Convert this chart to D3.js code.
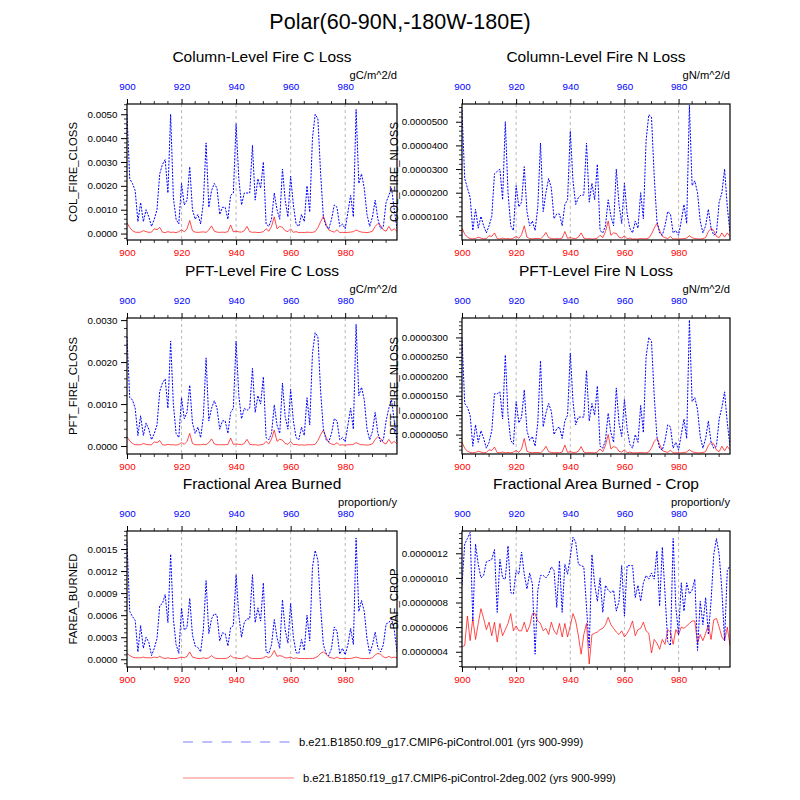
<!DOCTYPE html>
<html>
<head>
<meta charset="utf-8">
<script src="https://cdn.jsdelivr.net/npm/d3@7"></script>
<style>
  body { margin: 0; background: #fff; }
  text { font-family: "Liberation Sans", Arial, Helvetica, sans-serif; }
</style>
</head>
<body>
<div id="chart"></div>
<script>
// years 900-999, one value per year for each run
const years = d3.range(900, 1000)
const xMajor = [900, 920, 940, 960, 980]
const xGrid = [920, 940, 960, 980]

const ctlName = 'b.e21.B1850.f09_g17.CMIP6-piControl.001 (yrs 900-999)'
const expName = 'b.e21.B1850.f19_g17.CMIP6-piControl-2deg.002 (yrs 900-999)'

// COL_FIRE_CLOSS
const colClossCtl = [
  0.0050, 0.0023, 0.0021, 0.0018, 0.0005, 0.0013, 0.0005, 0.0010, 0.0007, 0.0003,
  0.0006, 0.0010, 0.0025, 0.0029, 0.0031, 0.0017, 0.0050, 0.0015, 0.0006, 0.0004,
  0.0021, 0.0012, 0.0014, 0.0028, 0.0010, 0.0006, 0.0008, 0.0004, 0.0013, 0.0038,
  0.0011, 0.0018, 0.0021, 0.0019, 0.0008, 0.0011, 0.0011, 0.0006, 0.0016, 0.0017,
  0.0046, 0.0023, 0.0012, 0.0017, 0.0017, 0.0017, 0.0037, 0.0014, 0.0023, 0.0019,
  0.0030, 0.0004, 0.0003, 0.0006, 0.0017, 0.0010, 0.0006, 0.0027, 0.0014, 0.0007,
  0.0024, 0.0012, 0.0004, 0.0003, 0.0008, 0.0005, 0.0020, 0.0009, 0.0040, 0.0050,
  0.0048, 0.0025, 0.0007, 0.0003, 0.0002, 0.0006, 0.0012, 0.0011, 0.0003, 0.0004,
  0.0002, 0.0009, 0.0016, 0.0007, 0.0052, 0.0021, 0.0025, 0.0019, 0.0008, 0.0003,
  0.0007, 0.0014, 0.0006, 0.0002, 0.0003, 0.0013, 0.0016, 0.0019, 0.0010, 0.0002
]
const colClossExp = [
  0.00045, 0.00025, 0.00012, 0.00006, 0.00005, 0.00006, 0.00012, 0.00008, 0.00005, 0.00006,
  0.00020, 0.00016, 0.00026, 0.00006, 0.00004, 0.00008, 0.00005, 0.00006, 0.00004, 0.00008,
  0.00016, 0.00007, 0.00020, 0.00055, 0.00012, 0.00006, 0.00005, 0.00006, 0.00007, 0.00005,
  0.00015, 0.00032, 0.00010, 0.00006, 0.00005, 0.00006, 0.00005, 0.00008, 0.00036, 0.00007,
  0.00010, 0.00007, 0.00006, 0.00012, 0.00030, 0.00008, 0.00005, 0.00006, 0.00004, 0.00005,
  0.00008, 0.00020, 0.00010, 0.00030, 0.00070, 0.00020, 0.00030, 0.00026, 0.00012, 0.00008,
  0.00020, 0.00005, 0.00008, 0.00004, 0.00005, 0.00004, 0.00006, 0.00005, 0.00005, 0.00008,
  0.00025, 0.00050, 0.00072, 0.00040, 0.00015, 0.00010, 0.00006, 0.00016, 0.00004, 0.00005,
  0.00004, 0.00005, 0.00006, 0.00008, 0.00015, 0.00010, 0.00006, 0.00005, 0.00004, 0.00006,
  0.00010, 0.00030, 0.00042, 0.00035, 0.00015, 0.00010, 0.00030, 0.00012, 0.00020, 0.00010
]
const colClossTicks = [0, 0.001, 0.002, 0.003, 0.004, 0.005]

// COL_FIRE_NLOSS
const colNlossCtl = [
  5.5e-5, 2.6e-5, 2.2e-5, 1.8e-5, 0.4e-5, 1.3e-5, 0.5e-5, 1.0e-5, 0.6e-5, 0.3e-5,
  0.6e-5, 1.0e-5, 2.8e-5, 2.9e-5, 3.0e-5, 1.7e-5, 5.0e-5, 2.0e-5, 0.6e-5, 0.4e-5,
  2.3e-5, 1.4e-5, 1.6e-5, 3.1e-5, 1.2e-5, 0.6e-5, 0.8e-5, 0.4e-5, 1.4e-5, 4.1e-5,
  1.2e-5, 2.0e-5, 2.6e-5, 2.2e-5, 0.9e-5, 1.1e-5, 1.1e-5, 0.6e-5, 1.5e-5, 1.7e-5,
  4.6e-5, 2.5e-5, 1.5e-5, 1.8e-5, 1.9e-5, 1.9e-5, 4.1e-5, 1.6e-5, 2.4e-5, 1.7e-5,
  3.2e-5, 0.4e-5, 0.3e-5, 0.6e-5, 1.7e-5, 1.0e-5, 0.6e-5, 3.0e-5, 1.5e-5, 0.7e-5,
  2.4e-5, 1.1e-5, 0.5e-5, 0.3e-5, 0.8e-5, 0.5e-5, 2.0e-5, 0.9e-5, 4.2e-5, 5.3e-5,
  5.2e-5, 2.7e-5, 0.8e-5, 0.3e-5, 0.2e-5, 0.6e-5, 1.2e-5, 1.1e-5, 0.3e-5, 0.4e-5,
  0.2e-5, 0.8e-5, 1.5e-5, 0.7e-5, 5.7e-5, 2.3e-5, 2.5e-5, 2.0e-5, 0.8e-5, 0.3e-5,
  0.6e-5, 1.3e-5, 0.5e-5, 0.2e-5, 0.3e-5, 1.6e-5, 2.0e-5, 3.0e-5, 1.4e-5, 0.3e-5
]
const colNlossExp = [
  0.50e-5, 0.25e-5, 0.12e-5, 0.06e-5, 0.05e-5, 0.06e-5, 0.12e-5, 0.08e-5, 0.05e-5, 0.06e-5,
  0.18e-5, 0.15e-5, 0.30e-5, 0.06e-5, 0.04e-5, 0.08e-5, 0.05e-5, 0.06e-5, 0.04e-5, 0.08e-5,
  0.15e-5, 0.07e-5, 0.22e-5, 0.60e-5, 0.12e-5, 0.06e-5, 0.05e-5, 0.06e-5, 0.07e-5, 0.05e-5,
  0.15e-5, 0.32e-5, 0.10e-5, 0.06e-5, 0.05e-5, 0.06e-5, 0.05e-5, 0.08e-5, 0.36e-5, 0.07e-5,
  0.10e-5, 0.07e-5, 0.06e-5, 0.12e-5, 0.30e-5, 0.08e-5, 0.05e-5, 0.06e-5, 0.04e-5, 0.05e-5,
  0.08e-5, 0.20e-5, 0.10e-5, 0.35e-5, 0.80e-5, 0.20e-5, 0.30e-5, 0.28e-5, 0.12e-5, 0.08e-5,
  0.18e-5, 0.05e-5, 0.08e-5, 0.04e-5, 0.05e-5, 0.04e-5, 0.06e-5, 0.05e-5, 0.05e-5, 0.08e-5,
  0.25e-5, 0.50e-5, 0.70e-5, 0.40e-5, 0.15e-5, 0.10e-5, 0.06e-5, 0.15e-5, 0.04e-5, 0.05e-5,
  0.04e-5, 0.05e-5, 0.06e-5, 0.08e-5, 0.18e-5, 0.10e-5, 0.06e-5, 0.05e-5, 0.04e-5, 0.06e-5,
  0.10e-5, 0.35e-5, 0.50e-5, 0.40e-5, 0.15e-5, 0.10e-5, 0.30e-5, 0.12e-5, 0.30e-5, 0.15e-5
]
const colNlossTicks = [1e-5, 2e-5, 3e-5, 4e-5, 5e-5]

// PFT_FIRE_CLOSS
const pftClossCtl = [
  0.0026, 0.00115, 0.0011, 0.0009, 0.00025, 0.00072, 0.00025, 0.00055, 0.0004, 0.00015,
  0.0003, 0.0005, 0.0013, 0.0015, 0.0016, 0.0009, 0.0025, 0.0010, 0.0003, 0.0002,
  0.00115, 0.00065, 0.0008, 0.00145, 0.00055, 0.0003, 0.00045, 0.0002, 0.0007, 0.0021,
  0.0006, 0.0009, 0.00108, 0.0009, 0.0004, 0.0006, 0.0006, 0.0003, 0.0008, 0.0009,
  0.0025, 0.0012, 0.00065, 0.0009, 0.00085, 0.0009, 0.00185, 0.0008, 0.0012, 0.0010,
  0.00165, 0.0002, 0.00015, 0.0003, 0.00098, 0.0005, 0.0003, 0.0015, 0.0007, 0.0004,
  0.00135, 0.0006, 0.0002, 0.00015, 0.00045, 0.00025, 0.00115, 0.0005, 0.0022, 0.0027,
  0.0026, 0.0013, 0.0004, 0.00015, 0.0001, 0.0003, 0.00065, 0.0006, 0.00015, 0.0002,
  0.0001, 0.0005, 0.0009, 0.0004, 0.0029, 0.0012, 0.0014, 0.0011, 0.0004, 0.00015,
  0.00035, 0.0008, 0.0003, 0.0001, 0.00015, 0.0006, 0.0009, 0.0011, 0.0006, 0.0001
]
const pftClossExp = [
  0.00022, 0.00012, 0.00006, 0.00003, 0.00003, 0.00003, 0.00006, 0.00004, 0.00003, 0.00003,
  0.00010, 0.00008, 0.00013, 0.00003, 0.00002, 0.00004, 0.00003, 0.00003, 0.00002, 0.00004,
  0.00008, 0.00004, 0.00011, 0.00030, 0.00006, 0.00003, 0.00003, 0.00003, 0.00004, 0.00003,
  0.00008, 0.00017, 0.00005, 0.00003, 0.00003, 0.00003, 0.00003, 0.00004, 0.00019, 0.00004,
  0.00005, 0.00004, 0.00003, 0.00006, 0.00016, 0.00004, 0.00003, 0.00003, 0.00002, 0.00003,
  0.00004, 0.00011, 0.00005, 0.00017, 0.00038, 0.00011, 0.00016, 0.00014, 0.00006, 0.00004,
  0.00011, 0.00003, 0.00004, 0.00002, 0.00003, 0.00002, 0.00003, 0.00003, 0.00003, 0.00004,
  0.00013, 0.00027, 0.00038, 0.00021, 0.00008, 0.00005, 0.00003, 0.00008, 0.00002, 0.00003,
  0.00002, 0.00003, 0.00003, 0.00004, 0.00008, 0.00005, 0.00003, 0.00003, 0.00002, 0.00003,
  0.00005, 0.00016, 0.00022, 0.00018, 0.00008, 0.00005, 0.00016, 0.00006, 0.00011, 0.00005
]
const pftClossTicks = [0, 0.001, 0.002, 0.003]

// PFT_FIRE_NLOSS
const pftNlossCtl = [
  3.0e-5, 1.3e-5, 1.2e-5, 1.0e-5, 0.2e-5, 0.75e-5, 0.3e-5, 0.6e-5, 0.4e-5, 0.15e-5,
  0.3e-5, 0.6e-5, 1.55e-5, 1.55e-5, 1.6e-5, 0.9e-5, 2.55e-5, 1.0e-5, 0.35e-5, 0.25e-5,
  1.35e-5, 0.8e-5, 0.95e-5, 1.65e-5, 0.6e-5, 0.35e-5, 0.45e-5, 0.2e-5, 0.8e-5, 2.4e-5,
  0.7e-5, 1.05e-5, 1.3e-5, 1.1e-5, 0.5e-5, 0.65e-5, 0.7e-5, 0.4e-5, 0.85e-5, 1.0e-5,
  2.6e-5, 1.35e-5, 0.75e-5, 0.95e-5, 0.95e-5, 0.95e-5, 2.15e-5, 0.85e-5, 1.3e-5, 1.0e-5,
  1.75e-5, 0.2e-5, 0.15e-5, 0.35e-5, 1.05e-5, 0.55e-5, 0.3e-5, 1.7e-5, 0.8e-5, 0.45e-5,
  1.4e-5, 0.65e-5, 0.25e-5, 0.15e-5, 0.5e-5, 0.3e-5, 1.25e-5, 0.55e-5, 2.5e-5, 3.0e-5,
  2.9e-5, 1.5e-5, 0.45e-5, 0.15e-5, 0.1e-5, 0.35e-5, 0.75e-5, 0.7e-5, 0.15e-5, 0.3e-5,
  0.1e-5, 0.5e-5, 0.9e-5, 0.4e-5, 3.45e-5, 1.35e-5, 1.45e-5, 1.15e-5, 0.45e-5, 0.15e-5,
  0.4e-5, 0.85e-5, 0.3e-5, 0.15e-5, 0.2e-5, 0.9e-5, 1.2e-5, 1.6e-5, 0.8e-5, 0.2e-5
]
const pftNlossExp = [
  0.30e-5, 0.15e-5, 0.07e-5, 0.04e-5, 0.03e-5, 0.04e-5, 0.07e-5, 0.05e-5, 0.03e-5, 0.04e-5,
  0.11e-5, 0.09e-5, 0.18e-5, 0.04e-5, 0.03e-5, 0.05e-5, 0.03e-5, 0.04e-5, 0.03e-5, 0.05e-5,
  0.09e-5, 0.04e-5, 0.13e-5, 0.40e-5, 0.07e-5, 0.04e-5, 0.03e-5, 0.04e-5, 0.04e-5, 0.03e-5,
  0.09e-5, 0.20e-5, 0.06e-5, 0.04e-5, 0.03e-5, 0.04e-5, 0.03e-5, 0.05e-5, 0.23e-5, 0.04e-5,
  0.06e-5, 0.04e-5, 0.04e-5, 0.07e-5, 0.19e-5, 0.05e-5, 0.03e-5, 0.04e-5, 0.03e-5, 0.03e-5,
  0.05e-5, 0.13e-5, 0.06e-5, 0.22e-5, 0.50e-5, 0.13e-5, 0.19e-5, 0.17e-5, 0.07e-5, 0.05e-5,
  0.11e-5, 0.03e-5, 0.05e-5, 0.03e-5, 0.03e-5, 0.03e-5, 0.04e-5, 0.03e-5, 0.03e-5, 0.05e-5,
  0.16e-5, 0.32e-5, 0.40e-5, 0.25e-5, 0.09e-5, 0.06e-5, 0.04e-5, 0.10e-5, 0.03e-5, 0.03e-5,
  0.03e-5, 0.03e-5, 0.04e-5, 0.05e-5, 0.11e-5, 0.06e-5, 0.04e-5, 0.03e-5, 0.03e-5, 0.04e-5,
  0.06e-5, 0.22e-5, 0.30e-5, 0.26e-5, 0.10e-5, 0.06e-5, 0.20e-5, 0.08e-5, 0.20e-5, 0.10e-5
]
const pftNlossTicks = [0.5e-5, 1.0e-5, 1.5e-5, 2.0e-5, 2.5e-5, 3.0e-5]

// FAREA_BURNED
const fareaCtl = [
  0.0016, 0.00065, 0.00058, 0.00053, 0.0001, 0.00046, 0.00015, 0.0003, 0.00023, 0.00005,
  0.00015, 0.00028, 0.00073, 0.00076, 0.00088, 0.0005, 0.00143, 0.00055, 0.0002, 0.00008,
  0.0007, 0.0004, 0.00043, 0.00083, 0.00033, 0.00018, 0.00016, 0.0001, 0.0004, 0.00107,
  0.00035, 0.00055, 0.00062, 0.0006, 0.00025, 0.00036, 0.00035, 0.00018, 0.00043, 0.00046,
  0.00115, 0.0006, 0.0003, 0.0005, 0.00055, 0.00055, 0.00115, 0.0005, 0.0007, 0.00052,
  0.00104, 0.0001, 0.00008, 0.0002, 0.00054, 0.0003, 0.00015, 0.00081, 0.0004, 0.00022,
  0.00076, 0.0003, 0.00009, 0.00008, 0.00027, 0.00012, 0.0006, 0.00025, 0.00125, 0.00148,
  0.00135, 0.0007, 0.0002, 0.00008, 0.00005, 0.00015, 0.00044, 0.00038, 0.00007, 0.00015,
  0.00006, 0.0002, 0.00042, 0.0002, 0.00165, 0.00065, 0.0008, 0.00065, 0.00028, 0.00008,
  0.0002, 0.00037, 0.00015, 0.0001, 0.0002, 0.00048, 0.0005, 0.00055, 0.0004, 0.0001
]
const fareaExp = [
  0.00008, 0.00005, 0.00003, 0.00002, 0.00002, 0.00002, 0.00003, 0.00002, 0.00002, 0.00002,
  0.00003, 0.00002, 0.00004, 0.00002, 0.00001, 0.00002, 0.00001, 0.00001, 0.00001, 0.00002,
  0.00003, 0.00002, 0.00004, 0.00010, 0.00003, 0.00002, 0.00001, 0.00001, 0.00002, 0.00001,
  0.00002, 0.00005, 0.00002, 0.00001, 0.00001, 0.00001, 0.00001, 0.00002, 0.00005, 0.00002,
  0.00002, 0.00001, 0.00001, 0.00002, 0.00005, 0.00002, 0.00001, 0.00001, 0.00001, 0.00001,
  0.00002, 0.00004, 0.00002, 0.00005, 0.00012, 0.00004, 0.00005, 0.00004, 0.00002, 0.00002,
  0.00003, 0.00001, 0.00002, 0.00001, 0.00001, 0.00001, 0.00001, 0.00001, 0.00001, 0.00002,
  0.00004, 0.00008, 0.00010, 0.00007, 0.00003, 0.00002, 0.00001, 0.00003, 0.00001, 0.00001,
  0.00001, 0.00001, 0.00001, 0.00002, 0.00003, 0.00002, 0.00001, 0.00001, 0.00001, 0.00001,
  0.00002, 0.00006, 0.00008, 0.00007, 0.00003, 0.00002, 0.00004, 0.00002, 0.00003, 0.00002
]
const fareaTicks = [0, 0.0003, 0.0006, 0.0009, 0.0012, 0.0015]

// BAF_CROP
const bafCropCtl = [
  9.4e-7, 12.75e-7, 13.2e-7, 13.7e-7, 6.5e-7, 12.75e-7, 11.1e-7, 10.0e-7, 10.2e-7, 11.3e-7,
  11.4e-7, 11.5e-7, 12.3e-7, 7.2e-7, 11.5e-7, 10.0e-7, 9.9e-7, 12.6e-7, 8.8e-7, 8.7e-7,
  10.6e-7, 10.3e-7, 12.1e-7, 10.3e-7, 9.1e-7, 10.4e-7, 9.5e-7, 3.8e-7, 9.0e-7, 10.2e-7,
  10.2e-7, 10.0e-7, 10.3e-7, 10.9e-7, 10.6e-7, 7.6e-7, 11.4e-7, 7.2e-7, 11.1e-7, 10.3e-7,
  11.7e-7, 13.3e-7, 12.9e-7, 11.1e-7, 11.0e-7, 10.9e-7, 7.6e-7, 4.3e-7, 11.9e-7, 9.5e-7,
  8.1e-7, 10.0e-7, 7.2e-7, 9.4e-7, 9.0e-7, 8.8e-7, 9.0e-7, 7.3e-7, 8.1e-7, 11.0e-7,
  6.9e-7, 11.0e-7, 11.0e-7, 11.0e-7, 8.4e-7, 9.4e-7, 8.1e-7, 9.6e-7, 10.2e-7, 9.9e-7,
  10.4e-7, 9.9e-7, 12.2e-7, 7.7e-7, 12.5e-7, 8.7e-7, 4.8e-7, 4.5e-7, 13.2e-7, 7.6e-7,
  5.4e-7, 9.6e-7, 7.3e-7, 9.6e-7, 8.7e-7, 9.0e-7, 9.9e-7, 4.1e-7, 8.1e-7, 6.2e-7,
  8.4e-7, 5.4e-7, 8.1e-7, 11.9e-7, 13.2e-7, 11.9e-7, 9.0e-7, 4.9e-7, 10.6e-7, 11.0e-7
]
const bafCropExp = [
  4.4e-7, 4.5e-7, 6.9e-7, 4.9e-7, 6.7e-7, 5.0e-7, 6.3e-7, 7.5e-7, 6.7e-7, 5.8e-7,
  6.4e-7, 5.3e-7, 6.4e-7, 4.8e-7, 6.3e-7, 5.3e-7, 5.8e-7, 6.3e-7, 7.1e-7, 5.7e-7,
  6.1e-7, 5.7e-7, 5.7e-7, 6.4e-7, 5.6e-7, 6.1e-7, 7.1e-7, 7.1e-7, 6.5e-7, 6.3e-7,
  5.7e-7, 5.9e-7, 5.4e-7, 6.4e-7, 5.7e-7, 5.4e-7, 6.3e-7, 5.2e-7, 6.3e-7, 5.2e-7,
  6.1e-7, 7.1e-7, 6.5e-7, 5.3e-7, 3.8e-7, 5.4e-7, 6.3e-7, 3.0e-7, 5.4e-7, 5.5e-7,
  5.6e-7, 5.8e-7, 5.9e-7, 6.2e-7, 6.8e-7, 6.2e-7, 5.9e-7, 5.6e-7, 5.4e-7, 5.7e-7,
  5.2e-7, 5.5e-7, 5.9e-7, 6.5e-7, 5.3e-7, 5.8e-7, 5.9e-7, 6.4e-7, 5.7e-7, 5.5e-7,
  3.9e-7, 5.0e-7, 4.7e-7, 4.2e-7, 5.0e-7, 4.6e-7, 5.8e-7, 5.6e-7, 4.6e-7, 5.8e-7,
  5.4e-7, 6.0e-7, 5.9e-7, 6.1e-7, 6.3e-7, 6.5e-7, 6.5e-7, 4.7e-7, 5.4e-7, 4.9e-7,
  5.5e-7, 6.2e-7, 5.0e-7, 6.6e-7, 6.7e-7, 6.0e-7, 5.2e-7, 4.9e-7, 6.0e-7, 4.5e-7
]
const bafCropTicks = [4e-7, 6e-7, 8e-7, 10e-7, 12e-7]

// layout
const colX = [127, 462]
const colW = [270, 268]
const rowY = [104, 318, 531]
const plotH = 136

const panels = [
  { title: 'Column-Level Fire C Loss', ylab: 'COL_FIRE_CLOSS', units: 'gC/m^2/d', ctl: colClossCtl, exp: colClossExp, ticks: colClossTicks, dec: 4, yDomain: [-0.00027, 0.00543], col: 0, row: 0 },
  { title: 'Column-Level Fire N Loss', ylab: 'COL_FIRE_NLOSS', units: 'gN/m^2/d', ctl: colNlossCtl, exp: colNlossExp, ticks: colNlossTicks, dec: 7, yDomain: [0, 5.75e-5], col: 1, row: 0 },
  { title: 'PFT-Level Fire C Loss', ylab: 'PFT_FIRE_CLOSS', units: 'gC/m^2/d', ctl: pftClossCtl, exp: pftClossExp, ticks: pftClossTicks, dec: 4, yDomain: [-0.00019, 0.00305], col: 0, row: 1 },
  { title: 'PFT-Level Fire N Loss', ylab: 'PFT_FIRE_NLOSS', units: 'gN/m^2/d', ctl: pftNlossCtl, exp: pftNlossExp, ticks: pftNlossTicks, dec: 7, yDomain: [0, 3.5e-5], col: 1, row: 1 },
  { title: 'Fractional Area Burned', ylab: 'FAREA_BURNED', units: 'proportion/y', ctl: fareaCtl, exp: fareaExp, ticks: fareaTicks, dec: 4, yDomain: [-0.000105, 0.001745], col: 0, row: 2 },
  { title: 'Fractional Area Burned - Crop', ylab: 'BAF_CROP', units: 'proportion/y', ctl: bafCropCtl, exp: bafCropExp, ticks: bafCropTicks, dec: 7, yDomain: [2.76e-7, 1.381e-6], col: 1, row: 2 }
]

const labelPad = [9.5, 14]
const ylabOff = [54, 68]

const svg = d3.select('#chart').append('svg')
  .attr('width', 800)
  .attr('height', 800)

svg.append('text')
  .attr('x', 400)
  .attr('y', 29)
  .attr('text-anchor', 'middle')
  .style('font-size', '21.5px')
  .text('Polar(60-90N,-180W-180E)')

panels.forEach(drawPanel)

function drawPanel (p, idx) {
  let w = colW[p.col]
  let g = svg.append('g')
    .attr('transform', 'translate(' + colX[p.col] + ',' + rowY[p.row] + ')')

  let x = d3.scaleLinear().domain([900, 999]).range([0, w])
  let y = d3.scaleLinear().domain(p.yDomain).range([plotH, 0])

  let clipId = 'clip' + idx
  g.append('clipPath').attr('id', clipId)
    .append('rect').attr('width', w).attr('height', plotH)

  g.selectAll('.grid')
    .data(xGrid)
    .enter()
    .append('line')
    .attr('class', 'grid')
    .attr('x1', d => x(d)).attr('x2', d => x(d))
    .attr('y1', 0).attr('y2', plotH)
    .attr('stroke', '#a8a8a8')
    .attr('stroke-width', 0.8)
    .attr('stroke-dasharray', '3,3')

  let line = d3.line()
    .x((d, i) => x(years[i]))
    .y(d => y(d))

  g.append('path')
    .attr('d', line(p.exp))
    .attr('fill', 'none')
    .attr('stroke', '#ff0000')
    .attr('stroke-width', 0.7)
    .attr('clip-path', 'url(#' + clipId + ')')

  g.append('path')
    .attr('d', line(p.ctl))
    .attr('fill', 'none')
    .attr('stroke', '#0000ff')
    .attr('stroke-width', 1)
    .attr('stroke-dasharray', '2,1.3')
    .attr('clip-path', 'url(#' + clipId + ')')

  g.append('rect')
    .attr('width', w)
    .attr('height', plotH)
    .attr('fill', 'none')
    .attr('stroke', '#000')
    .attr('stroke-width', 1.2)

  // x axes: blue years on top, red years below
  let topAxis = g.append('g')
    .call(d3.axisTop(x).tickValues(xMajor).tickSize(5).tickPadding(9).tickFormat(d3.format('d')))
  let botAxis = g.append('g')
    .attr('transform', 'translate(0,' + plotH + ')')
    .call(d3.axisBottom(x).tickValues(xMajor).tickSize(5).tickPadding(4).tickFormat(d3.format('d')))
  styleAxis(topAxis, '#0000ff')
  styleAxis(botAxis, '#ff0000')

  let xMinor = x.ticks(20).filter(v => v % 20 !== 0)
  g.selectAll('.xminor-top')
    .data(xMinor)
    .enter()
    .append('line')
    .attr('x1', d => x(d)).attr('x2', d => x(d))
    .attr('y1', 0).attr('y2', -3)
    .attr('stroke', '#000').attr('stroke-width', 0.8)
  g.selectAll('.xminor-bot')
    .data(xMinor)
    .enter()
    .append('line')
    .attr('x1', d => x(d)).attr('x2', d => x(d))
    .attr('y1', plotH).attr('y2', plotH + 3)
    .attr('stroke', '#000').attr('stroke-width', 0.8)

  // y axis
  let leftAxis = g.append('g')
    .call(d3.axisLeft(y).tickValues(p.ticks).tickSize(6).tickPadding(labelPad[p.col] - 6).tickFormat(d => d.toFixed(p.dec)))
  styleAxis(leftAxis, '#000')

  let step = (p.ticks[1] - p.ticks[0]) / 5
  let n0 = Math.ceil(p.yDomain[0] / step - 1e-6)
  let n1 = Math.floor(p.yDomain[1] / step + 1e-6)
  let yMinor = d3.range(n0, n1 + 1).filter(i => i % 5 !== 0).map(i => i * step)
  g.selectAll('.yminor')
    .data(yMinor)
    .enter()
    .append('line')
    .attr('x1', 0).attr('x2', -3)
    .attr('y1', d => y(d)).attr('y2', d => y(d))
    .attr('stroke', '#000').attr('stroke-width', 0.8)

  g.append('text')
    .attr('x', w / 2)
    .attr('y', -42.5)
    .attr('text-anchor', 'middle')
    .style('font-size', '15.5px')
    .text(p.title)

  g.append('text')
    .attr('x', w)
    .attr('y', -25.5)
    .attr('text-anchor', 'end')
    .style('font-size', '11.2px')
    .text(p.units)

  g.append('text')
    .attr('transform', 'translate(' + (-ylabOff[p.col]) + ',' + plotH / 2 + ') rotate(-90)')
    .attr('text-anchor', 'middle')
    .attr('dy', '0.35em')
    .style('font-size', '11.3px')
    .text(p.ylab)
}

function styleAxis (sel, color) {
  sel.attr('font-family', null).attr('font-size', null)
  sel.select('.domain').remove()
  sel.selectAll('line').attr('stroke', '#000').attr('stroke-width', 1)
  sel.selectAll('text').attr('fill', color).style('font-size', '9.8px')
}

// legend
const legend = [
  { name: ctlName, color: '#a9a9ff', dash: '10,9.3', y: 742, tx: 299 },
  { name: expName, color: '#ffaaaa', dash: null, y: 778, tx: 303 }
]
let lg = svg.selectAll('.legend')
  .data(legend)
  .enter()
  .append('g')
  .attr('class', 'legend')
lg.append('line')
  .attr('x1', 183).attr('x2', d => d.dash ? 291 : 294)
  .attr('y1', d => d.y).attr('y2', d => d.y)
  .attr('stroke', d => d.color)
  .attr('stroke-width', 1.6)
  .attr('stroke-dasharray', d => d.dash)
lg.append('text')
  .attr('x', d => d.tx)
  .attr('y', d => d.y + 3.8)
  .style('font-size', '11.2px')
  .text(d => d.name)
</script>
</body>
</html>
